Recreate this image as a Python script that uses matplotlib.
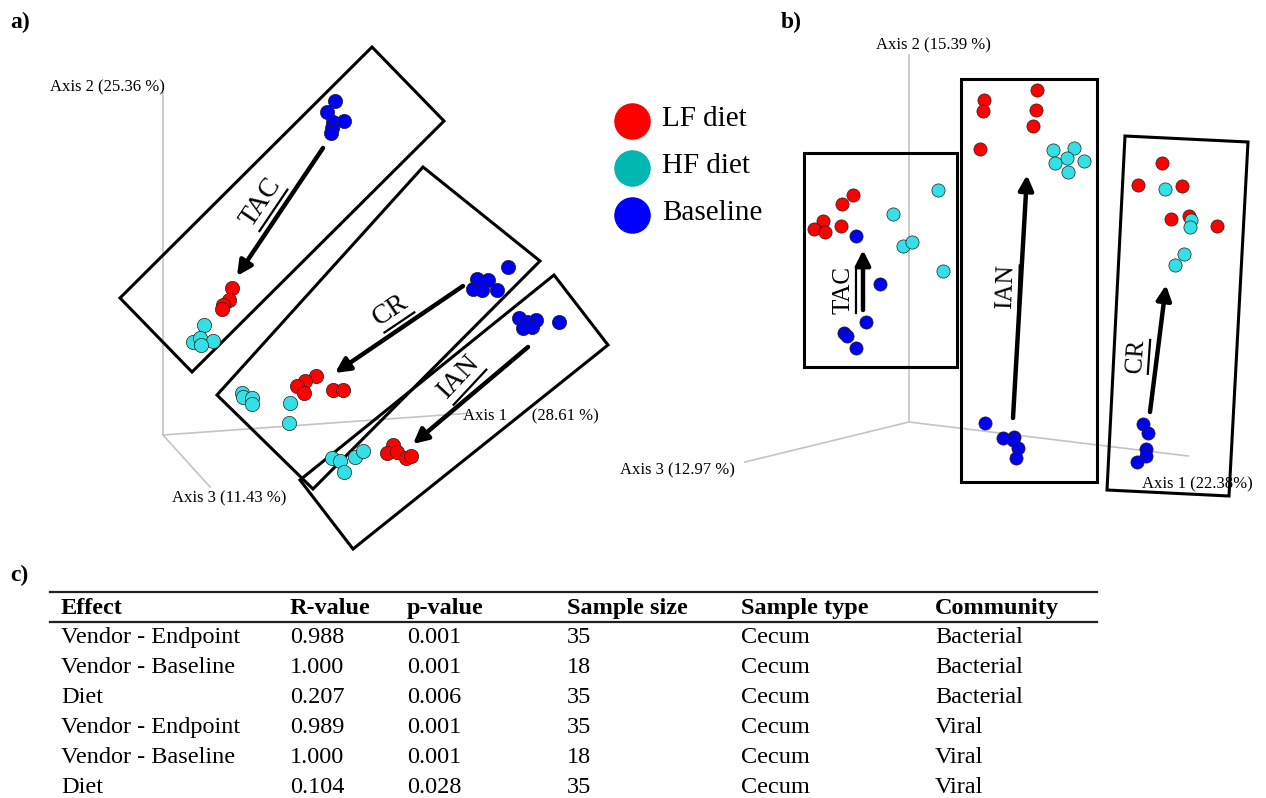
import numpy as np
import matplotlib
matplotlib.use("Agg")
import matplotlib.pyplot as plt
from matplotlib.patches import Polygon

plt.rcParams['font.family'] = ['Liberation Serif', 'DejaVu Serif']

# Colours of the three sample groups
RED = '#ff0000'
CYAN = '#33e0e6'
BLUE = '#0000f0'

# ---- panel a: projected PCoA coordinates (pixel space of the figure) ----
a_tac_blue_x = [335, 327, 333, 344, 332, 331]
a_tac_blue_y = [101, 112, 122, 121, 128, 133]
a_tac_red_x = [232, 229, 223, 222]
a_tac_red_y = [288, 300, 305, 309]
a_tac_cyan_x = [204, 193, 200, 213, 201]
a_tac_cyan_y = [325, 342, 338, 341, 345]

a_cr_blue_x = [508, 477, 488, 473, 482, 497]
a_cr_blue_y = [267, 279, 280, 289, 290, 290]
a_cr_red_x = [316, 305, 297, 304, 333, 343]
a_cr_red_y = [376, 381, 386, 393, 390, 390]
a_cr_cyan_x = [242, 243, 252, 252, 290, 289]
a_cr_cyan_y = [393, 397, 398, 404, 403, 423]

a_ian_blue_x = [519, 527, 536, 523, 532, 559]
a_ian_blue_y = [318, 322, 320, 328, 327, 322]
a_ian_red_x = [393, 387, 397, 406, 411]
a_ian_red_y = [445, 453, 452, 458, 456]
a_ian_cyan_x = [332, 340, 355, 363, 344]
a_ian_cyan_y = [458, 461, 457, 451, 472]

# ---- panel b ----
b_tac_red_x = [853, 842, 823, 814, 825, 841]
b_tac_red_y = [195, 204, 221, 229, 232, 226]
b_tac_blue_x = [856, 880, 866, 844, 847, 856]
b_tac_blue_y = [236, 284, 322, 333, 336, 348]
b_tac_cyan_x = [938, 893, 903, 912, 943]
b_tac_cyan_y = [190, 214, 246, 242, 271]

b_ian_red_x = [1037, 984, 983, 1036, 1033, 980]
b_ian_red_y = [90, 100, 111, 110, 126, 149]
b_ian_cyan_x = [1053, 1074, 1067, 1055, 1084, 1068]
b_ian_cyan_y = [150, 148, 158, 163, 161, 172]
b_ian_blue_x = [985, 1003, 1014, 1013, 1018, 1016]
b_ian_blue_y = [423, 438, 437, 440, 448, 458]

b_cr_red_x = [1162, 1138, 1182, 1171, 1189, 1217]
b_cr_red_y = [163, 185, 186, 219, 216, 226]
b_cr_cyan_x = [1165, 1191, 1190, 1184, 1175]
b_cr_cyan_y = [189, 220, 227, 254, 265]
b_cr_blue_x = [1143, 1148, 1146, 1146, 1137]
b_cr_blue_y = [424, 433, 449, 456, 462]

legend_labels = ['LF diet', 'HF diet', 'Baseline']
legend_colors = ['#ff0000', '#00b8b0', '#0000ff']

# ---- panel c: PERMANOVA table ----
col_headers = ['Effect', 'R-value', 'p-value', 'Sample size', 'Sample type', 'Community']
effects = ['Vendor - Endpoint', 'Vendor - Baseline', 'Diet',
           'Vendor - Endpoint', 'Vendor - Baseline', 'Diet']
r_values = ['0.988', '1.000', '0.207', '0.989', '1.000', '0.104']
p_values = ['0.001', '0.001', '0.006', '0.001', '0.001', '0.028']
sample_sizes = ['35', '18', '35', '35', '18', '35']
sample_types = ['Cecum'] * 6
communities = ['Bacterial', 'Bacterial', 'Bacterial', 'Viral', 'Viral', 'Viral']

W, H = 1266, 798
fig = plt.figure(figsize=(W / 100, H / 100), dpi=100)
ax = fig.add_axes([0, 0, 1, 1])
ax.set_xlim(0, W)
ax.set_ylim(H, 0)
ax.axis('off')

AXCOL = '#c4c4c4'


def dots(xs, ys, color, s=105):
    ax.scatter(xs, ys, s=s, c=color, edgecolors='#202020', linewidths=0.5, zorder=4)


def arrow(x0, y0, x1, y1):
    ax.annotate('', xy=(x1, y1), xytext=(x0, y0),
                arrowprops=dict(arrowstyle='-|>', lw=3.2, color='black',
                                mutation_scale=22, shrinkA=0, shrinkB=0), zorder=5)


def ulabel(cx, cy, text, rot, size, ulen, off):
    ax.text(cx, cy, text, rotation=rot, rotation_mode='anchor', ha='center',
            va='center', fontsize=size, zorder=5)
    t = np.deg2rad(rot)
    d = np.array([np.cos(t), -np.sin(t)])
    n = np.array([np.sin(t), np.cos(t)])
    c = np.array([cx, cy]) + n * off
    p0, p1 = c - d * ulen / 2, c + d * ulen / 2
    ax.plot([p0[0], p1[0]], [p0[1], p1[1]], color='black', lw=1.6, zorder=5)


def box(pts):
    ax.add_patch(Polygon(pts, closed=True, fill=False, ec='black', lw=2.2, zorder=3))


# ------------------- panel a -------------------
ax.plot([163, 163], [93, 435], color=AXCOL, lw=1.2, zorder=1)
ax.plot([163, 472], [435, 413], color=AXCOL, lw=1.2, zorder=1)
ax.plot([163, 210], [435, 487], color=AXCOL, lw=1.2, zorder=1)
ax.text(50, 87, 'Axis 2 (25.36 %)', fontsize=12, va='center', ha='left')
ax.text(463, 416, 'Axis 1      (28.61 %)', fontsize=12, va='center', ha='left')
ax.text(172, 498, 'Axis 3 (11.43 %)', fontsize=12, va='center', ha='left')

box([(120, 298), (372, 47), (444, 121), (192, 372)])
box([(217, 395), (423, 167), (540, 261), (313, 489)])
box([(300, 480), (554, 275), (608, 345), (353, 549)])

dots(a_tac_cyan_x, a_tac_cyan_y, CYAN)
dots(a_tac_red_x, a_tac_red_y, RED)
dots(a_tac_blue_x, a_tac_blue_y, BLUE)
dots(a_cr_cyan_x, a_cr_cyan_y, CYAN)
dots(a_cr_red_x, a_cr_red_y, RED)
dots(a_cr_blue_x, a_cr_blue_y, BLUE)
dots(a_ian_cyan_x, a_ian_cyan_y, CYAN)
dots(a_ian_red_x, a_ian_red_y, RED)
dots(a_ian_blue_x, a_ian_blue_y, BLUE)

arrow(323, 148, 237, 276)
arrow(463, 286, 335, 373)
arrow(528, 347, 413, 444)
ulabel(261, 202, 'TAC', 56, 20, 50, 15)
ulabel(391, 310, 'CR', 34, 20, 36, 15)
ulabel(459, 377, 'IAN', 47, 20, 48, 15)

# legend
for i, (lab, col) in enumerate(zip(legend_labels, legend_colors)):
    y = 121 + i * 47
    ax.scatter([632], [y], s=640, c=col, zorder=4)
    ax.text(662, y - 2, lab, fontsize=21, va='center', ha='left')

# ------------------- panel b -------------------
ax.plot([909, 909], [55, 422], color=AXCOL, lw=1.2, zorder=1)
ax.plot([909, 745], [422, 462], color=AXCOL, lw=1.2, zorder=1)
ax.plot([909, 1188], [422, 456], color=AXCOL, lw=1.2, zorder=1)
ax.text(876, 45, 'Axis 2 (15.39 %)', fontsize=12, va='center', ha='left')
ax.text(620, 470, 'Axis 3 (12.97 %)', fontsize=12, va='center', ha='left')
ax.text(1142, 484, 'Axis 1 (22.38%)', fontsize=12, va='center', ha='left', zorder=6)

box([(804, 153), (957, 153), (957, 367), (804, 367)])
box([(961, 79), (1097, 79), (1097, 482), (961, 482)])
box([(1125, 136), (1248, 142), (1229, 496), (1107, 490)])

dots(b_tac_red_x, b_tac_red_y, RED, 90)
dots(b_tac_blue_x, b_tac_blue_y, BLUE, 90)
dots(b_tac_cyan_x, b_tac_cyan_y, CYAN, 90)
dots(b_ian_red_x, b_ian_red_y, RED, 90)
dots(b_ian_cyan_x, b_ian_cyan_y, CYAN, 90)
dots(b_ian_blue_x, b_ian_blue_y, BLUE, 90)
dots(b_cr_red_x, b_cr_red_y, RED, 90)
dots(b_cr_cyan_x, b_cr_cyan_y, CYAN, 90)
dots(b_cr_blue_x, b_cr_blue_y, BLUE, 90)

arrow(863, 310, 863, 250)
arrow(1013, 418, 1027, 175)
arrow(1150, 412, 1166, 285)
ulabel(843, 290, 'TAC', 90, 18, 46, 13)
ulabel(1006, 287, 'IAN', 88, 18, 44, 13)
ulabel(1136, 356, 'CR', 86, 18, 34, 13)

# panel letters
for x, y, s in [(10, 22, 'a)'), (781, 22, 'b)'), (10, 575, 'c)')]:
    ax.text(x, y, s, fontsize=17, fontweight='bold', va='center', ha='left')

# ------------------- panel c -------------------
col_x = [61, 290, 407, 567, 741, 935]
ax.plot([50, 1097], [592, 592], color='#202020', lw=1.6)
ax.plot([50, 1097], [622, 622], color='#202020', lw=1.6)
for x, h in zip(col_x, col_headers):
    ax.text(x, 614, h, fontsize=17.5, fontweight='bold', va='baseline', ha='left')
rows = list(zip(effects, r_values, p_values, sample_sizes, sample_types, communities))
for i, row in enumerate(rows):
    y = 643 + i * 30
    for x, v in zip(col_x, row):
        ax.text(x, y, v, fontsize=17.5, va='baseline', ha='left')

fig.savefig('out.png', dpi=100)
